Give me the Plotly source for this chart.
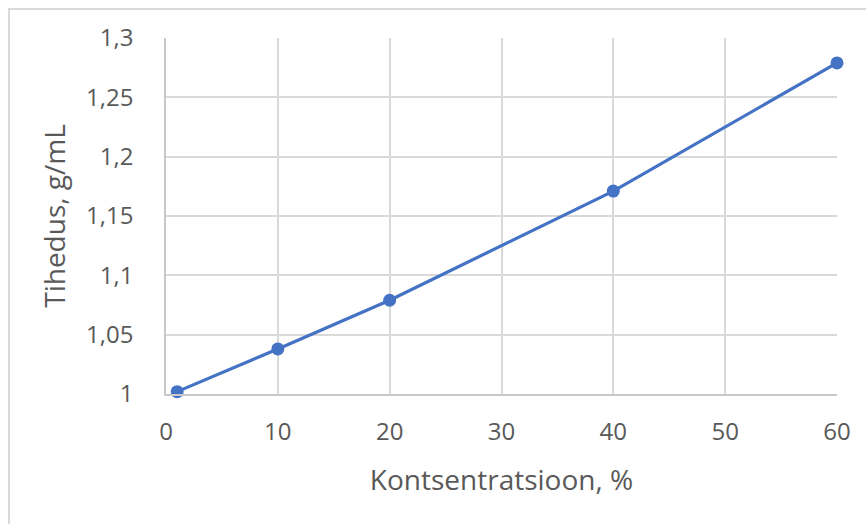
import plotly.graph_objects as go

# Density of the solution versus concentration
konts = [1, 10, 20, 40, 60]
tihedus = [1.002, 1.038, 1.079, 1.171, 1.279]

y_tickvals = [1.0, 1.05, 1.1, 1.15, 1.2, 1.25, 1.3]
y_ticktext = ["1", "1,05", "1,1", "1,15", "1,2", "1,25", "1,3"]
x_tickvals = [0, 10, 20, 30, 40, 50, 60]

W, H = 866, 524
L, R, T, B = 166, 29, 38, 130
pw, ph = W - L - R, H - T - B

font = "Open Sans"
txt = "#595959"
grid = "#d9d9d9"

fig = go.Figure()
fig.add_trace(go.Scatter(
    x=konts, y=tihedus, mode="lines+markers",
    line=dict(color="#4472C4", width=3.2),
    marker=dict(color="#4472C4", size=13),
    showlegend=False, cliponaxis=False,
))

# chart frame, running off the right and bottom edges
fig.add_shape(type="rect", xref="paper", yref="paper",
              x0=(9 - L) / pw, x1=(W + 10 - L) / pw,
              y0=(T + ph - (H + 10)) / ph, y1=(T + ph - 9) / ph,
              line=dict(color="#d9d9d9", width=2), layer="below")

fig.update_layout(
    width=W, height=H,
    margin=dict(l=L, r=R, t=T, b=B),
    paper_bgcolor="white", plot_bgcolor="white",
    font=dict(family=font, color=txt, size=24),
    xaxis=dict(
        range=[0, 60], tickvals=x_tickvals,
        showgrid=True, gridcolor=grid, gridwidth=1.5,
        showline=True, linecolor="#c8c8c8", linewidth=1.5,
        zeroline=False, ticks="", ticklabelstandoff=15,
        title=dict(text="Kontsentratsioon, %", font=dict(size=28, color=txt), standoff=25),
    ),
    yaxis=dict(
        range=[1.0, 1.3], tickvals=y_tickvals, ticktext=y_ticktext,
        showgrid=True, gridcolor=grid, gridwidth=1.5,
        showline=True, linecolor="#c8c8c8", linewidth=1.5,
        zeroline=False, ticks="", ticklabelstandoff=26,
        title=dict(text="Tihedus, g/mL", font=dict(size=28, color=txt), standoff=12),
    ),
)

fig.write_html("out.html")
